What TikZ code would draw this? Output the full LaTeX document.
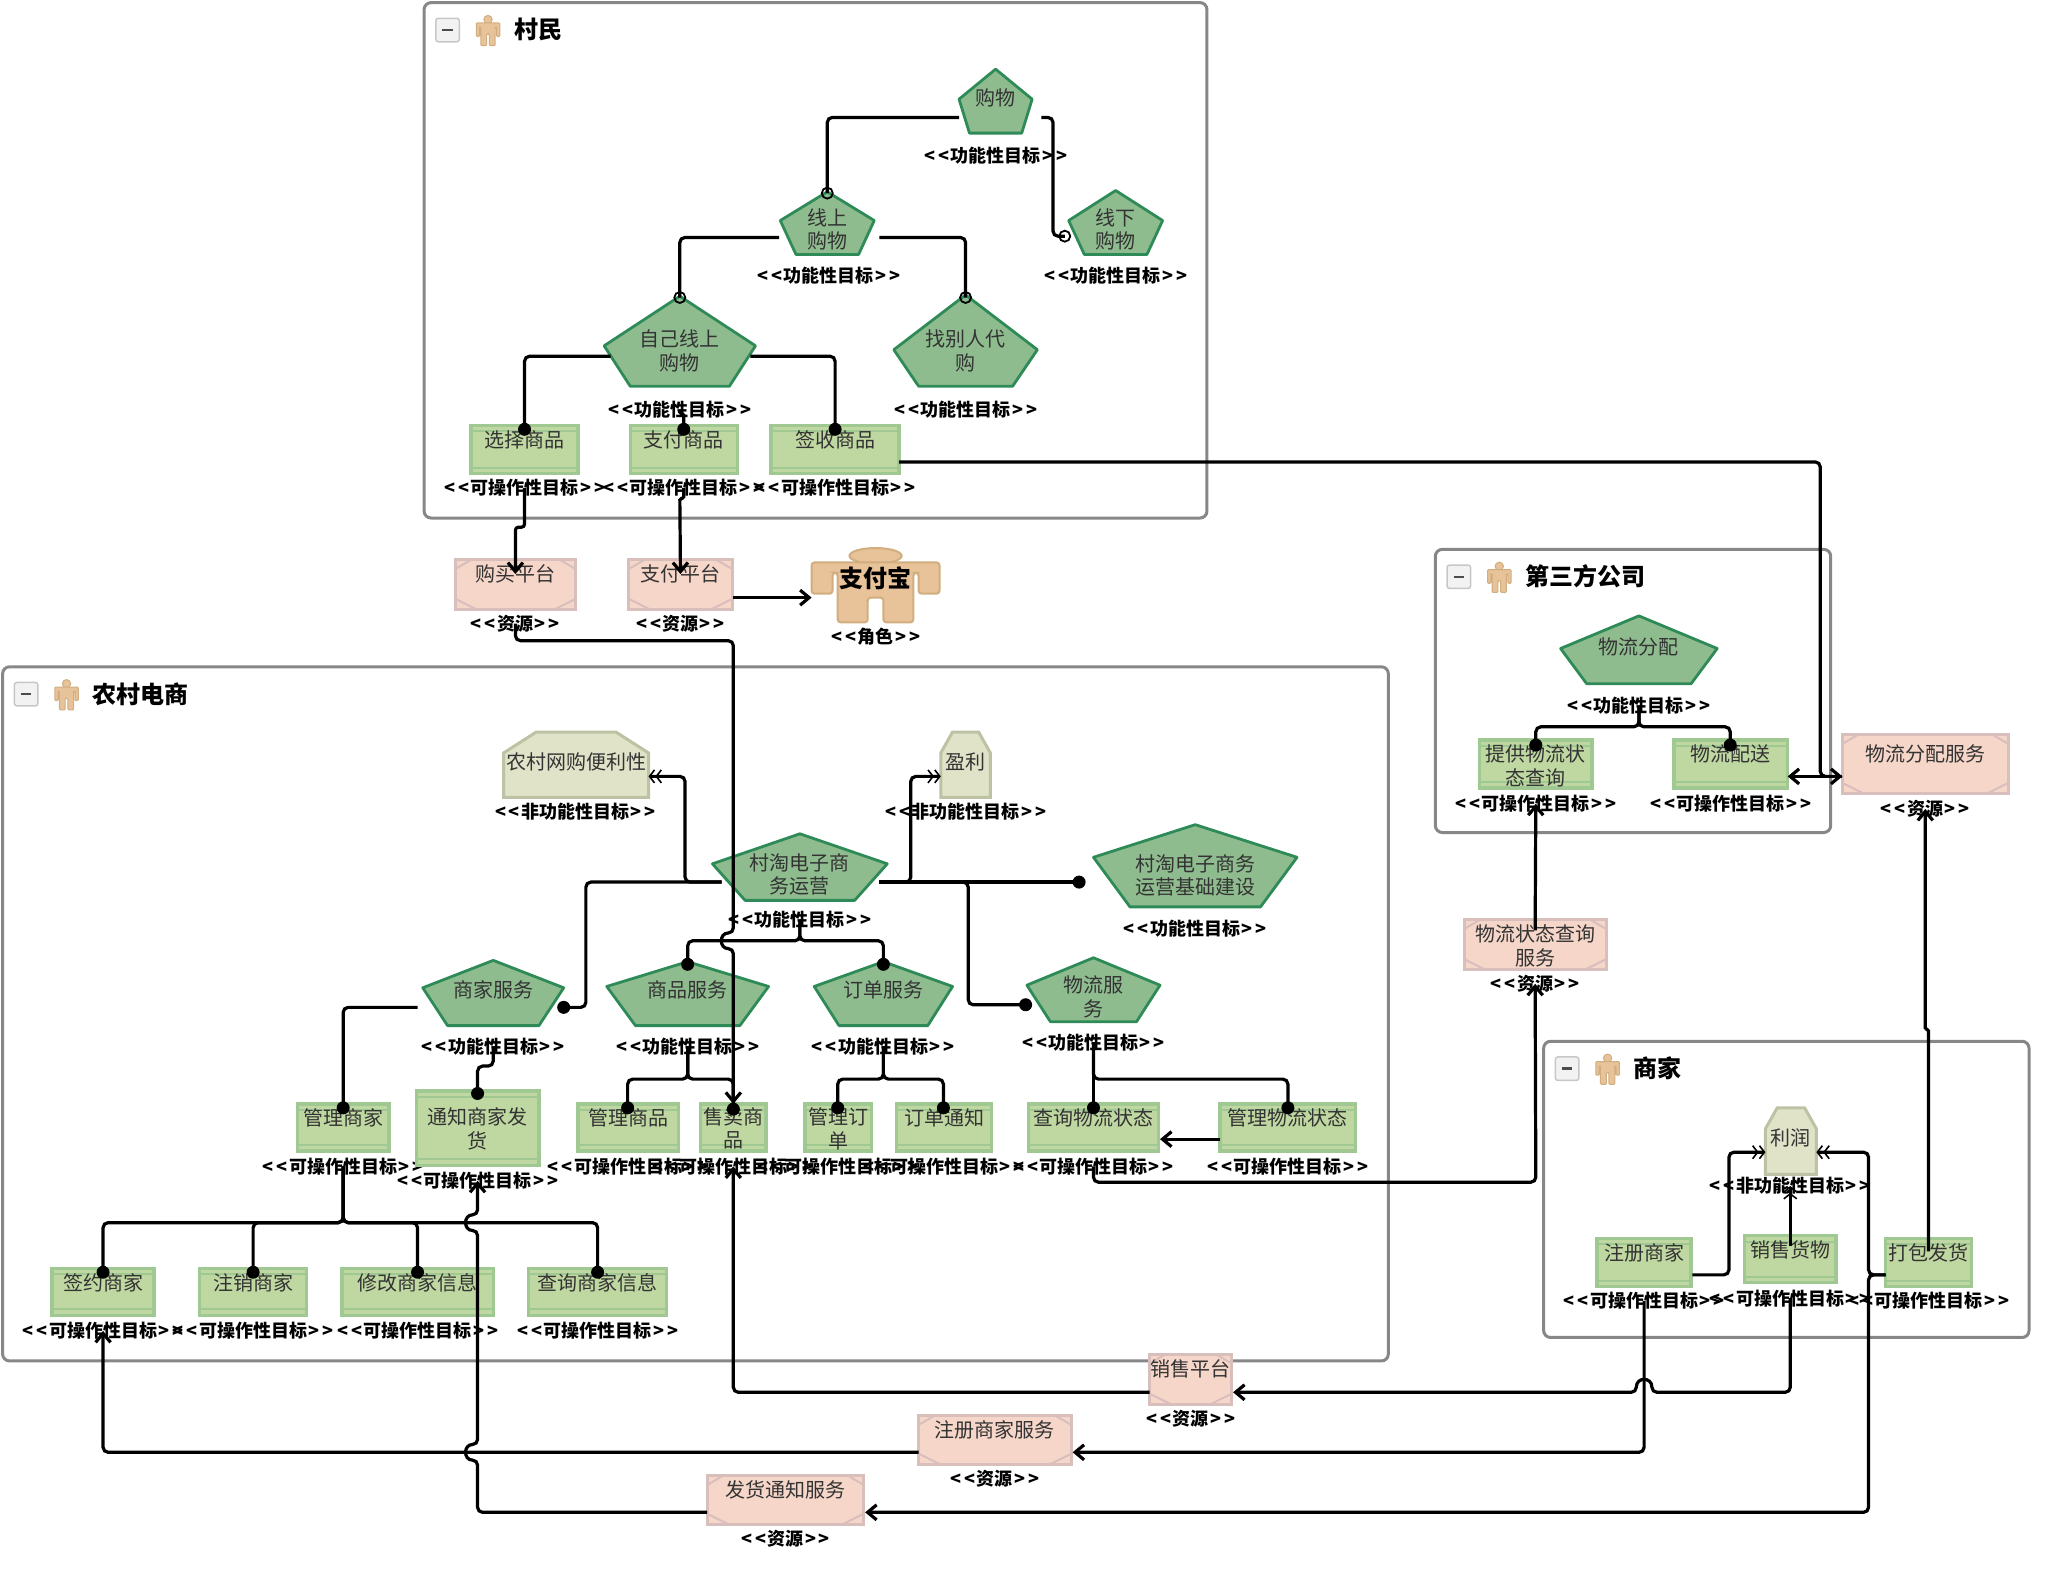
\documentclass[tikz,border=0pt]{standalone}
\usepackage{fontspec}
\setmainfont{Noto Sans CJK SC}
\usetikzlibrary{arrows.meta,fit,calc}
\definecolor{funcF}{HTML}{8FBC8F}
\definecolor{funcD}{HTML}{2E8B57}
\definecolor{operF}{HTML}{BFD7A0}
\definecolor{operD}{HTML}{A0C893}
\definecolor{resF}{HTML}{F5D6C8}
\definecolor{resD}{HTML}{D8BFBC}
\definecolor{softF}{HTML}{E0E3C8}
\definecolor{softD}{HTML}{BEC2A5}
\definecolor{actF}{HTML}{E8C298}
\definecolor{actD}{HTML}{D0AE80}
\tikzset{
 boxfit/.style={inner sep=0pt,outer sep=0pt},
 funcg/.style={fill=funcF,draw=funcD,line width=2.8pt,line join=round},
 operg/.style={boxfit,fill=operF,draw=operD,line width=3.4pt},
 operl/.style={draw=operD,line width=2pt},
 resg/.style={boxfit,fill=resF,draw=resD,line width=3pt},
 resl/.style={draw=resD,line width=2pt},
 softg/.style={fill=softF,draw=softD,line width=3pt},
 actorg/.style={fill=actF,draw=actD,line width=2pt},
 txt/.style={inner sep=0pt,align=center,text=black!80,yshift=-1.2pt,font=\fontsize{20}{23.5}\selectfont},
 labs/.style={inner sep=0pt,yshift=-1.2pt,font=\fontsize{18}{21}\selectfont\bfseries},
 ttl/.style={inner sep=0pt,anchor=west,yshift=-1.2pt,font=\fontsize{24}{28}\selectfont\bfseries},
 cont/.style={boxfit,draw=black!47,line width=3pt,rounded corners=7pt},
 minusb/.style={fill=black!5,draw=black!22,line width=1.5pt,rounded corners=2.5pt},
 conn/.style={draw=black,line width=3.2pt,rounded corners=5pt},
 arr/.style={conn,-{Straight Barb[length=9pt,width=15pt]}},
 dbl/.style={conn,-{Straight Barb[length=5pt,width=13pt,line width=1.6pt,sep=0pt]Straight Barb[length=5pt,width=13pt,line width=1.6pt]}},
 jdot/.style={circle,fill=black,inner sep=0pt,minimum size=13pt},
 ocir/.style={circle,draw=black,line width=1.8pt,inner sep=0pt,minimum size=11pt},
}
% container
\newcommand{\mkC}[6]{%
 \node[cont,fit={(#2,#3)(#4,#5)}] (#1) {};
 \draw[minusb] (#2+9,#3+12) rectangle (#2+27,#3+30);
 \draw[black!70,line width=2.5pt] (#2+14,#3+21) -- (#2+22,#3+21);
 \begin{scope}[shift={(#2+49,#3+21)}]
  \fill[actF,draw=actD,line width=1pt] (0,-8) circle[radius=3.2];
  \fill[actF,draw=actD,line width=1pt,rounded corners=1pt] (-9,-5.5) -- (9,-5.5) -- (9,5) -- (6.5,5) -- (6.5,-2) -- (5.5,-2) -- (5.5,12) -- (1,12) -- (1,3) -- (-1,3) -- (-1,12) -- (-5.5,12) -- (-5.5,-2) -- (-6.5,-2) -- (-6.5,5) -- (-9,5) -- cycle;
 \end{scope}
 \node[ttl] (#1t) at (#2+69,#3+20) {#6};
}
% label
\newcommand{\mkL}[4]{\node[labs] (#1l) at (#2,#3) {<\kern3pt<\kern1.5pt#4\kern1.5pt>\kern3pt>};}
% functional goal
\newcommand{\mkF}[9]{%
 \draw[funcg] (#2,#3) -- (#2+#5-1,#4) -- (#2+#7,#6) -- (#2-#7,#6) -- (#2-#5+1,#4) -- cycle;
 \node[boxfit,fit={(#2-#5,#3)(#2+#5,#6)}] (#1) {};
 \node[txt] (#1t) at (#2,#8) {#9};
}
% operational goal
\newcommand{\mkO}[8]{%
 \node[operg,fit={(#2,#3)(#4,#5)}] (#1) {};
 \draw[operl] (#2,#3+4.5) -- (#4,#3+4.5);
 \draw[operl] (#2,#5-4.5) -- (#4,#5-4.5);
 \node[txt] (#1t) at ({(#2+#4)/2},#6) {#7};
 \mkL{#1}{{(#2+#4)/2}}{#8}{可操作性目标}
}
% resource
\newcommand{\mkR}[8]{%
 \node[resg,fit={(#2,#3)(#4,#5)}] (#1) {};
 \draw[resl] (#2,#3+7) -- (#2+12,#3);
 \draw[resl] (#4,#3+7) -- (#4-12,#3);
 \draw[resl] (#2,#5-8) -- (#2+16,#5);
 \draw[resl] (#4,#5-8) -- (#4-16,#5);
 \node[txt] (#1t) at ({(#2+#4)/2},#6) {#7};
 \mkL{#1}{{(#2+#4)/2}}{#8}{资源}
}
% soft goal
\newcommand{\mkS}[9]{%
 \draw[softg] (#2,#5) -- (#2,#6) -- (#2+#7,#3) -- (#4-#7,#3) -- (#4,#6) -- (#4,#5) -- cycle;
 \node[boxfit,fit={(#2,#3)(#4,#5)}] (#1) {};
 \node[txt] (#1t) at ({(#2+#4)/2},#8) {#9};
}
\begin{document}
\begin{tikzpicture}[x=1.30485pt,y=-1.30485pt]
\useasboundingbox (0,0) rectangle (1568,1204);
%---- containers
\mkC{cm}{325}{2}{925}{397}{村民}
\mkC{dsf}{1100}{421}{1403}{638}{第三方公司}
\mkC{nc}{2}{511}{1064}{1043}{农村电商}
\mkC{sjc}{1183}{798}{1555}{1025}{商家}
%---- functional goals
\mkF{gw}{763}{53}{76}{29}{102}{20}{74}{购物}\mkL{gw}{763}{118}{功能性目标}
\mkF{xs}{634}{147}{169}{37}{195}{24}{175}{线上\\购物}\mkL{xs}{635}{210}{功能性目标}
\mkF{xx}{855}{146}{169}{37}{195}{24}{175}{线下\\购物}\mkL{xx}{855}{210}{功能性目标}
\mkF{zj}{521}{227}{265}{59}{296}{38}{268}{自己线上\\购物}\mkL{zj}{521}{313}{功能性目标}
\mkF{zb}{740}{226}{268}{56}{296}{36}{268}{找别人代\\购}\mkL{zb}{740}{313}{功能性目标}
\mkF{ct}{613}{639}{662}{68}{690}{42}{669}{村淘电子商\\务运营}\mkL{ct}{613}{704}{功能性目标}
\mkF{jc}{916}{632}{657}{79}{695}{50}{670}{村淘电子商务\\运营基础建设}\mkL{jc}{916}{711}{功能性目标}
\mkF{sj}{378}{736}{757}{55}{786}{35}{758}{商家服务}\mkL{sj}{378}{801}{功能性目标}
\mkF{sp}{527}{737}{756}{63}{786}{40}{758}{商品服务}\mkL{sp}{527}{801}{功能性目标}
\mkF{dd}{677}{737}{756}{54}{786}{34}{758}{订单服务}\mkL{dd}{677}{801}{功能性目标}
\mkF{wl}{838}{734}{755}{52}{783}{33}{763}{物流服\\务}\mkL{wl}{838}{798}{功能性目标}
\mkF{fp}{1256}{472}{497}{61}{524}{40}{495}{物流分配}\mkL{fp}{1256}{540}{功能性目标}
%---- operational goals
\mkO{xz}{361}{326}{443}{363}{336}{选择商品}{373}
\mkO{zf}{483}{326}{565}{363}{336}{支付商品}{373}
\mkO{qs}{591}{326}{689}{363}{336}{签收商品}{373}
\mkO{gs}{228}{846}{298}{882}{856}{管理商家}{893}
\mkO{tz}{319}{836}{413}{893}{864}{通知商家发\\货}{904}
\mkO{gp}{443}{846}{520}{882}{856}{管理商品}{893}
\mkO{mm}{537}{846}{587}{882}{864}{售卖商\\品}{893}
\mkO{gd}{617}{846}{668}{882}{864}{管理订\\单}{893}
\mkO{dt}{687}{846}{760}{882}{856}{订单通知}{893}
\mkO{cx}{788}{846}{888}{882}{856}{查询物流状态}{893}
\mkO{gl}{935}{846}{1039}{882}{856}{管理物流状态}{893}
\mkO{qy}{40}{972}{118}{1008}{982}{签约商家}{1019}
\mkO{zx}{153}{972}{235}{1008}{982}{注销商家}{1019}
\mkO{xg}{262}{972}{378}{1008}{982}{修改商家信息}{1019}
\mkO{cs}{405}{972}{511}{1008}{982}{查询商家信息}{1019}
\mkO{tg}{1134}{567}{1220}{604}{586}{提供物流状\\态查询}{615}
\mkO{ps}{1283}{567}{1370}{604}{577}{物流配送}{615}
\mkO{zc}{1224}{949}{1296}{986}{959}{注册商家}{996}
\mkO{xh}{1337}{947}{1407}{983}{957}{销售货物}{994}
\mkO{db}{1445}{949}{1511}{986}{959}{打包发货}{996}
%---- resources
\mkR{rg}{349}{429}{441}{467}{439}{购买平台}{477}
\mkR{rz}{482}{429}{561}{467}{439}{支付平台}{477}
\mkR{rw}{1412}{563}{1539}{608}{577}{物流分配服务}{619}
\mkR{rc}{1122}{705}{1231}{743}{724}{物流状态查询\\服务}{753}
\mkR{rx}{881}{1038}{944}{1076}{1048}{销售平台}{1086}
\mkR{rs}{704}{1085}{821}{1122}{1095}{注册商家服务}{1132}
\mkR{rf}{542}{1131}{662}{1168}{1141}{发货通知服务}{1178}
%---- soft goals
\mkS{s1}{386}{561}{497}{611}{577}{25}{583}{农村网购便利性}\mkL{s1}{441}{621}{非功能性目标}
\mkS{s2}{721}{561}{759}{611}{577}{9}{583}{盈利}\mkL{s2}{740}{621}{非功能性目标}
\mkS{s3}{1353}{849}{1392}{900}{865}{9}{871}{利润}\mkL{s3}{1372}{908}{非功能性目标}
%---- actor
\fill[actorg] (671,426) ellipse [x radius=20,y radius=6];
\draw[actorg,rounded corners=3pt] (622,455) -- (622,431) -- (720,431) -- (720,455) -- (704,455) -- (704,439) -- (700,439) -- (700,477) -- (677,477) -- (677,458) -- (665,458) -- (665,477) -- (642,477) -- (642,439) -- (638,439) -- (638,455) -- cycle;
\node[boxfit,fit={(622,420)(720,478)}] (ab) {};
\node[inner sep=0pt,font=\fontsize{24}{28}\selectfont\bfseries] (abt) at (671,443) {支付宝};
\mkL{ab}{671}{487}{角色}
%---- ports
\coordinate (gwW) at (735,90);   \coordinate (gwE) at (798,90);
\coordinate (xsW) at (597,182);  \coordinate (xsE) at (674,182);
\coordinate (zjW) at (468,273);  \coordinate (zjE) at (575,273);
\coordinate (ctW) at (553,676);  \coordinate (ctE) at (674,676);
\coordinate (sjW) at (320,772);
\coordinate (qsE) at (689,354);
\coordinate (rzE) at (562,458);
\coordinate (psE) at (1370,595); \coordinate (rwW) at (1412,595);
\coordinate (glW) at (935,873);  \coordinate (cxE) at (889,873);
\coordinate (s1E) at (497,595);  \coordinate (s2W) at (721,595);
\coordinate (s3W) at (1353,883); \coordinate (s3E) at (1392,883);
\coordinate (zcE) at (1297,977); \coordinate (dbW) at (1445,977);
\coordinate (rxE) at (945,1067); \coordinate (rxW) at (881,1067);
\coordinate (rsE) at (822,1113); \coordinate (rsW) at (704,1113);
\coordinate (rfE) at (663,1159); \coordinate (rfW) at (542,1159);
%---- end markers
\node[ocir] (o1) at (634,148) {};
\node[ocir] (o2) at (816,181) {};
\node[ocir] (o3) at (521,228) {};
\node[ocir] (o4) at (740,228) {};
\node[jdot] (d1) at (402,329) {};
\node[jdot] (d2) at (524,329) {};
\node[jdot] (d3) at (640,329) {};
\node[jdot] (d4) at (1177,571) {};
\node[jdot] (d5) at (1326,571) {};
\node[jdot] (d6) at (827,676) {};
\node[jdot] (d7) at (432,772) {};
\node[jdot] (d8) at (786,770) {};
\node[jdot] (d9) at (527,739) {};
\node[jdot] (d10) at (677,739) {};
\node[jdot] (d11) at (263,849) {};
\node[jdot] (d12) at (366,838) {};
\node[jdot] (d13) at (481,849) {};
\node[jdot] (d14) at (562,850) {};
\node[jdot] (d15) at (642,849) {};
\node[jdot] (d16) at (723,849) {};
\node[jdot] (d17) at (838,849) {};
\node[jdot] (d18) at (987,849) {};
\node[jdot] (d19) at (79,975) {};
\node[jdot] (d20) at (194,975) {};
\node[jdot] (d21) at (320,975) {};
\node[jdot] (d22) at (458,975) {};
%---- connectors: 村民
\draw[conn] (gwW) -| (o1.center);
\draw[conn] (gwE) -| (807,181) -- (o2.center);
\draw[conn] (xsW) -| (o3.center);
\draw[conn] (xsE) -| (o4.center);
\draw[conn] (zjW) -| (d1.center);
\draw[conn] (zjE) -| (d3.center);
\draw[conn,rounded corners=1.5pt] (zjl.center) -- (521,317) -- (524,317) -- (d2.center);
\draw[arr,rounded corners=3pt] (xzl.center) -- (402,404) -- (395,404) -- (rgt.center);
\draw[arr,rounded corners=1.5pt] (zfl.center) -- (524,382) -- (521,382) -- (rzt.center);
\draw[arr] (rzE) -- (ab.west |- rzE);
\draw[arr] (rgl.center) -- (395,491) -- (562,491) -- (562,715) .. controls (551,715) and (551,727) .. (562,727) -- (mm.north);
\draw[arr] (qsE) -| (1395,595) -- (rwW);
\draw[arr] (rwW) -- (psE);
%---- 第三方公司
\draw[conn] (fpl.center) -- (1256,557) -| (d4.center);
\draw[conn] (fpl.center) -- (1256,557) -| (d5.center);
\draw[arr] (rcl.center) ++(0,-41) -- (tgl.center);
\draw[arr] (cxl.center) |- (1177,906) -- (rcl.center);
\draw[arr,rounded corners=1.5pt] (db.north) ++(0,10) -- (1478,789) -- (1475.5,789) -- (rwl.center);
%---- 农村电商
\draw[conn] (ctW) -| (449,772) -- (d7.center);
\draw[dbl] (ctW) -- (525,676) |- (s1E);
\draw[dbl] (ctE) -- (698,676) |- (s2W);
\draw[conn] (ctE) -- (d6.center);
\draw[conn] (ctE) -| (742,770) -- (d8.center);
\draw[conn] (ctl.center) -- (613,721) -| (d9.center);
\draw[conn] (ctl.center) -- (613,721) -| (d10.center);
\draw[conn] (sjW) -| (d11.center);
\draw[conn] (sjl.center) -- (378,817) -- (366,817) -- (d12.center);
\draw[conn] (spl.center) -- (527,827) -| (d13.center);
\draw[conn] (spl.center) -- (527,827) -| (d14.center);
\draw[conn] (ddl.center) -- (677,827) -| (d15.center);
\draw[conn] (ddl.center) -- (677,827) -| (d16.center);
\draw[conn] (wll.center) -- (d17.center);
\draw[conn] (wll.center) -- (838,827) -| (d18.center);
\draw[arr] (glW) -- (cxE);
\draw[conn] (gsl.center) -- (263,937) -| (d19.center);
\draw[conn] (gsl.center) -- (263,937) -| (d20.center);
\draw[conn] (gsl.center) -- (263,937) -| (d21.center);
\draw[conn] (gsl.center) -- (263,937) -| (d22.center);
%---- 商家 and resources
\draw[dbl] (zcE) -| (1325,883) -- (s3W);
\draw[dbl] (dbW) -- (1432,977) |- (s3E);
\draw[arr] (dbW) -- (1432,977) |- (rfE);
\draw[dbl] (xh.north) ++(0,8) -- (s3l.center);
\draw[arr] (xhl.center) |- (1266,1067) .. controls (1266,1055) and (1254,1055) .. (1254,1067) -- (rxE);
\draw[arr] (rxW) -| (mml.center);
\draw[arr] (zcl.center) |- (rsE);
\draw[arr] (rsW) -| (qyl.center);
\draw[arr] (rfW) -| (366,1119) .. controls (355,1119) and (355,1107) .. (366,1107) -- (366,943) .. controls (355,943) and (355,931) .. (366,931) -- (tzl.center);
\end{tikzpicture}
\end{document}
